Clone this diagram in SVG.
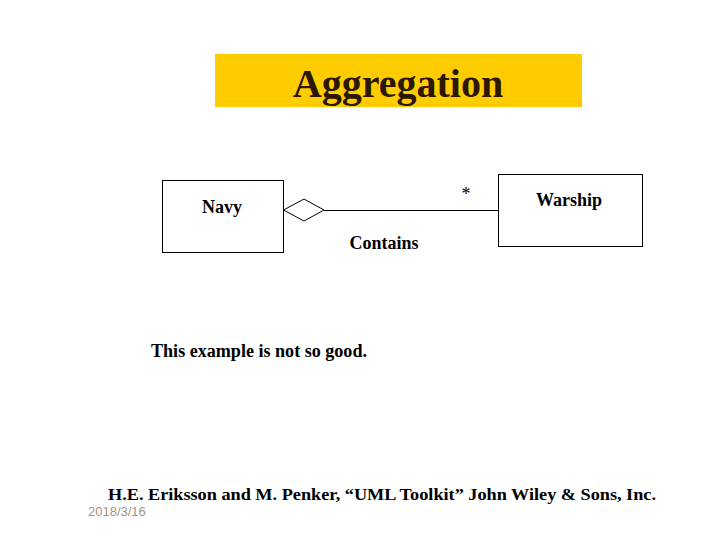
<svg xmlns="http://www.w3.org/2000/svg" width="720" height="540" viewBox="0 0 720 540">
<style>
.t{font-family:"Liberation Serif","Times New Roman",serif;font-weight:bold;fill:#000}
.box{fill:#fff;stroke:#000;stroke-width:1}
</style>
<rect width="720" height="540" fill="#fff"/>
<g id="title">
<rect x="215" y="54" width="367" height="53" fill="#ffcc00"/>
<text class="t" x="398" y="97" font-size="40" text-anchor="middle" style="fill:#2a1800">Aggregation</text>
</g>
<g id="navy">
<rect class="box" x="162.5" y="180.5" width="121" height="72"/>
<text class="t" x="222" y="213" font-size="18" text-anchor="middle">Navy</text>
</g>
<g id="warship">
<rect class="box" x="498.5" y="174.5" width="144" height="72"/>
<text class="t" x="569" y="206" font-size="18" text-anchor="middle">Warship</text>
</g>
<g id="connectors">
<polygon points="283.5,210 304,199 324,210 304,221" fill="#fff" stroke="#000"/>
<line x1="324" y1="210.5" x2="498" y2="210.5" stroke="#000"/>
<text x="466" y="200" font-size="18" text-anchor="middle" font-family="Liberation Serif, serif">*</text>
<text class="t" x="384" y="249" font-size="18" text-anchor="middle">Contains</text>
</g>
<text class="t" x="151" y="357" font-size="18" textLength="216" lengthAdjust="spacingAndGlyphs">This example is not so good.</text>
<text class="t" x="108" y="500" font-size="17" textLength="548" lengthAdjust="spacingAndGlyphs">H.E. Eriksson and M. Penker, “UML Toolkit” John Wiley &amp; Sons, Inc.</text>
<text x="88" y="516" font-size="13" font-family="Liberation Sans, Arial, sans-serif" fill="#a09480">2018/3/16</text>
</svg>
